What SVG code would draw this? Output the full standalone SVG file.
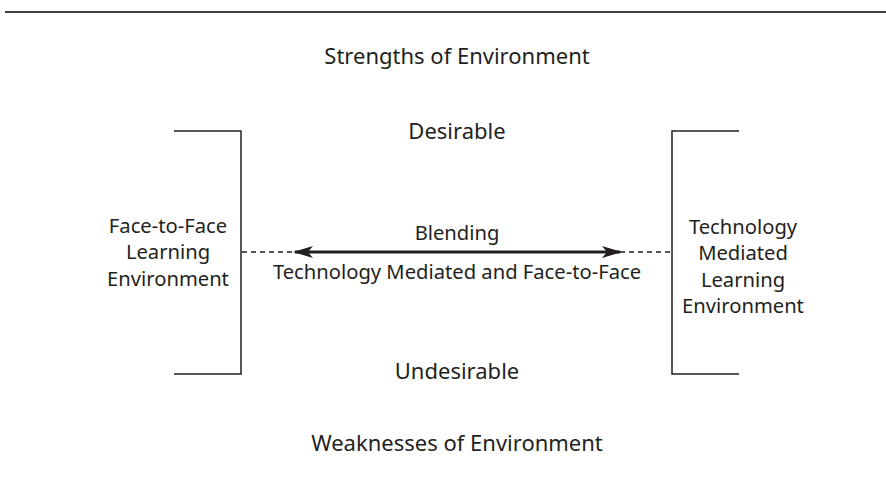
<svg xmlns="http://www.w3.org/2000/svg" width="886" height="480" viewBox="0 0 886 480">
<style>
text{font-family:"Noto Sans","Open Sans",sans-serif;font-size:20.2px;fill:#231f20;text-anchor:middle}
.big{font-size:22px}
.br{fill:none;stroke:#231f20;stroke-width:1.5}
.dash{stroke:#231f20;stroke-width:1.3;stroke-dasharray:5,4}
</style>
<defs>
<marker id="ah" viewBox="0 0 20 12" refX="18" refY="6" markerWidth="20" markerHeight="12" markerUnits="userSpaceOnUse" orient="auto-start-reverse">
<path d="M0,0 L20,6 L0,12 L5,6 Z" fill="#231f20"/>
</marker>
</defs>
<rect width="886" height="480" fill="#fff"/>
<line x1="5" y1="12" x2="886" y2="12" stroke="#000" stroke-width="1.6"/>
<g id="title-top"><text class="big" x="457" y="64">Strengths of Environment</text></g>
<g id="desirable"><text class="big" x="457" y="139">Desirable</text></g>
<g id="undesirable"><text class="big" x="457" y="379">Undesirable</text></g>
<g id="title-bottom"><text class="big" x="457" y="451">Weaknesses of Environment</text></g>
<g id="left-node">
<path class="br" d="M174,131 H241 V374 H174"/>
<text x="168" y="233">Face-to-Face</text>
<text x="168" y="259">Learning</text>
<text x="168" y="286">Environment</text>
</g>
<g id="right-node">
<path class="br" d="M739,131 H672 V374 H739"/>
<text x="743" y="234">Technology</text>
<text x="743" y="260">Mediated</text>
<text x="743" y="287">Learning</text>
<text x="743" y="313">Environment</text>
</g>
<g id="connectors">
<line class="dash" x1="242" y1="252" x2="295" y2="252"/>
<line class="dash" x1="620" y1="252" x2="671" y2="252"/>
<line x1="295" y1="252" x2="620" y2="252" stroke="#231f20" stroke-width="3" marker-start="url(#ah)" marker-end="url(#ah)"/>
</g>
<g id="blend-labels">
<text x="457" y="240">Blending</text>
<text x="457" y="279">Technology Mediated and Face-to-Face</text>
</g>
</svg>
